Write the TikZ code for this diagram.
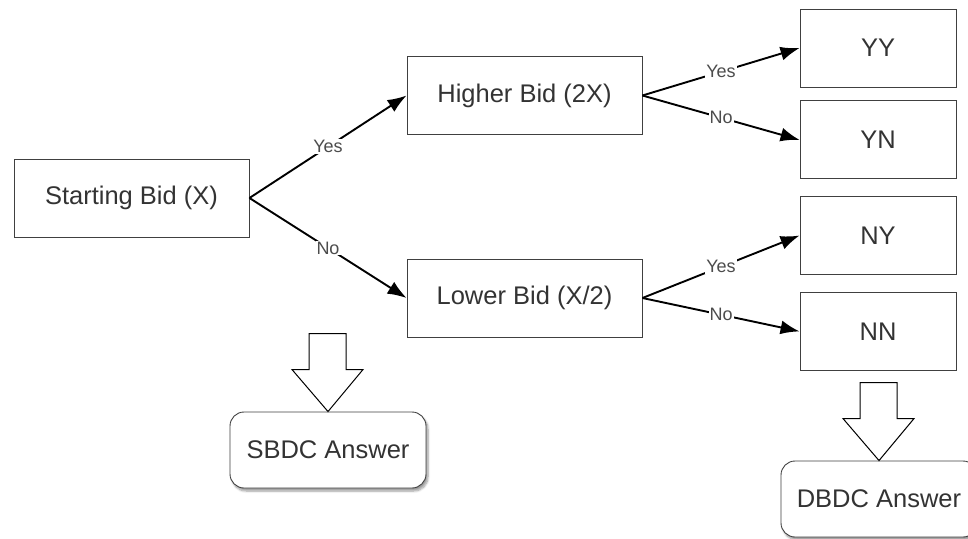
\documentclass[tikz,border=0pt]{standalone}
\usepackage{fontspec}
\setmainfont{Liberation Sans}
\usetikzlibrary{arrows.meta, shapes, positioning, shadows.blur}

% hollow arrow pointing down onto a node
\newcommand{\blockarrow}[1]{%
  \draw[fill=white, line width=1pt] (#1) -- ++(-36,-42) -- ++(17,0) -- ++(0,-36)
    -- ++(37,0) -- ++(0,36) -- ++(17,0) -- cycle;}

\begin{document}
\begin{tikzpicture}[x=1pt, y=-1pt,
    bid node/.style={rectangle, draw=black!75, line width=0.9pt, minimum width=235pt,
      minimum height=78pt, font=\fontsize{25.5}{30}\selectfont, text=black!80},
    out node/.style={bid node, minimum width=156pt},
    answer node/.style={bid node, rounded corners=14pt, minimum width=196pt, minimum height=76pt,
      fill=white, blur shadow={shadow xshift=2pt, shadow yshift=-3pt, shadow blur steps=6}},
    choice/.style={-{Latex[length=19pt,width=14pt]}, line width=1.9pt},
    choice label/.style={fill=white, inner sep=1pt, font=\fontsize{18}{20}\selectfont, text=black!70}]

  \clip (0,0) rectangle (968,538);

  \node[bid node] (start) at (131.5,198) {Starting Bid (X)};
  \node[bid node] (high) at (524.5,95.5) {Higher Bid (2X)};
  \node[bid node] (low) at (524.5,298) {Lower Bid (X/2)};

  \node[out node] (yy) at (878,48) {YY};
  \node[out node] (yn) [below=13pt of yy] {YN};
  \node[out node] (ny) at (878,235.5) {NY};
  \node[out node] (nn) [below=17pt of ny] {NN};

  \node[answer node] (sbdc) at (328,450) {SBDC Answer};
  \node[answer node] (dbdc) at (879,499) {DBDC Answer};

  \foreach \s/\t/\l in {start/high/Yes, start/low/No, high/yy/Yes, high/yn/No, low/ny/Yes, low/nn/No} {
    \draw[choice] (\s.east) -- node[choice label] {\l} (\t.west);}

  \blockarrow{sbdc.north}
  \blockarrow{dbdc.north}
\end{tikzpicture}
\end{document}
